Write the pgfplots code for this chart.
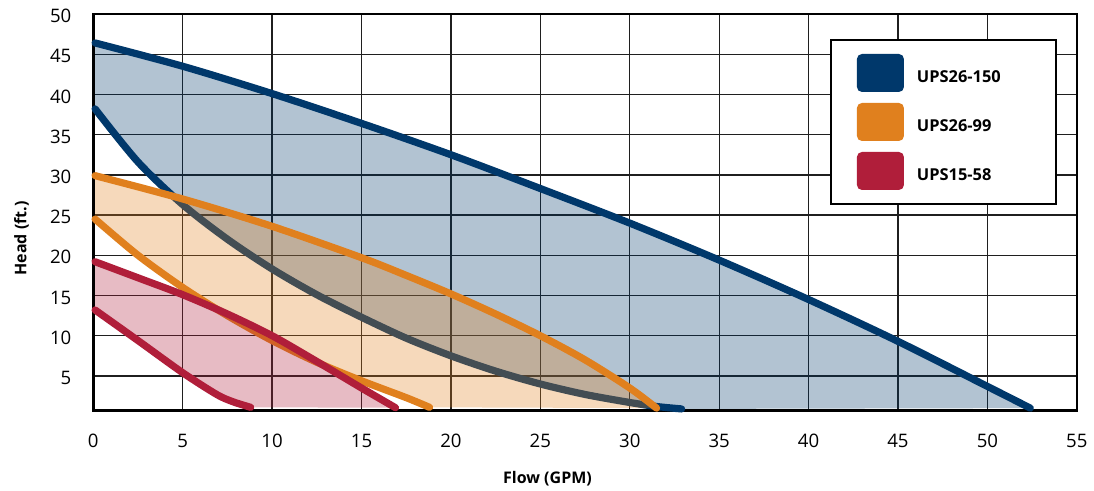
\documentclass[border=0pt]{standalone}
\usepackage{pgfplots}
\pgfplotsset{compat=1.18}
\usepackage{pgfplotstable}
\usepgfplotslibrary{fillbetween}
\usepackage{fontspec}
\setmainfont{Open Sans}
\definecolor{navyc}{RGB}{0,56,107}
\definecolor{orangec}{RGB}{224,128,30}
\definecolor{redc}{RGB}{176,30,58}

% UPS26-150 upper / lower
\pgfplotstableread{
x y
0.1 46.4
5 43.5
10 40.1
15 36.4
20 32.5
25 28.3
30 24.0
35 19.4
40 14.5
45 9.3
50 3.7
52.4 1.0
}\bu
\pgfplotstableread{
x y
0.1 38.2
2.5 31.6
5 26.3
7.5 22.0
10 18.3
12.5 15.1
15 12.3
17.5 9.7
20 7.5
22.5 5.6
25 4.0
27.5 2.7
30 1.7
31.5 1.2
32.9 0.9
}\bl
% UPS26-99 upper / lower
\pgfplotstableread{
x y
0.1 29.9
5 27.0
10 23.6
15 19.7
17.5 17.5
20 15.2
22.5 12.7
25 10.0
27.5 7.0
30 3.5
31.5 1.0
}\ou
\pgfplotstableread{
x y
0.1 24.5
2.5 20.0
5 16.0
7.5 12.5
10 9.4
12.5 6.7
15 4.4
17.5 2.3
18.8 1.1
}\ol
% UPS15-58 upper / lower
\pgfplotstableread{
x y
0.1 19.2
2.5 17.2
5 15.1
7.5 12.7
10 10.0
12.5 6.8
15 3.5
16.9 1.05
}\ru
\pgfplotstableread{
x y
0.1 13.2
2.5 9.4
5 5.4
6.9 2.7
7.8 1.8
8.8 1.1
}\rl

\tikzset{fill between/on layer=main}
\pgfplotsset{
  sqlegend/.style={legend image code/.code={\path[##1, rounded corners=2.5pt] (0pt,-7.2pt) rectangle (23.5pt,11.8pt);}},
  curve/.style={line width=3.6pt, smooth, line cap=round, forget plot},
}

\begin{document}
\begin{tikzpicture}
\begin{axis}[
  at={(0,0)}, anchor=south west,
  scale only axis, width=491.75pt, height=198.35pt,
  xmin=0, xmax=55, ymin=0.68, ymax=50,
  xtick={0,5,...,55}, ytick={5,10,...,50},
  grid=major, major grid style={line width=0.65pt, black!88},
  axis line style={line width=1.3pt, black},
  major tick length=0pt,
  clip=false,
  /pgf/number format/assume math mode=true,
  tick label style={font=\fontsize{9.3}{11}\selectfont, inner sep=0pt},
  xticklabel style={anchor=north, yshift=-11.4pt},
  yticklabel style={anchor=east, xshift=-10.8pt, yshift=-1pt},
  xlabel={Flow (GPM)}, ylabel={Head (ft.)},
  label style={font=\fontsize{8}{10}\selectfont\bfseries},
  xlabel style={at={([yshift=-36.2pt]axis description cs:0.4618,0)}, anchor=base},
  ylabel style={at={([xshift=-33.4pt]axis description cs:0,0.434)}, anchor=base},
  legend style={at={(axis description cs:0.749,0.937)}, anchor=north west,
    draw=black, line width=1pt, fill=white, inner xsep=13pt, inner ysep=7pt,
    row sep=5.5pt, column sep=6.5pt,
    font=\fontsize{8.2}{10}\selectfont\bfseries,
    nodes={inner sep=0pt, anchor=west}},
]
\addlegendimage{sqlegend, fill=navyc, draw=none}
\addlegendentry{\makebox[56.5pt][l]{UPS26-150}}
\addlegendimage{sqlegend, fill=orangec, draw=none}
\addlegendentry{\makebox[56.5pt][l]{UPS26-99}}
\addlegendimage{sqlegend, fill=redc, draw=none}
\addlegendentry{\makebox[56.5pt][l]{UPS15-58}}

% UPS26-150
\addplot[draw=none, smooth, name path=bu, forget plot] table {\bu};
\addplot[draw=none, smooth, name path=bl, forget plot] table {\bl};
\addplot[fill=navyc, fill opacity=0.3, draw=none, forget plot] fill between[of=bu and bl];
\addplot[navyc, curve] table {\bu};
\addplot[navyc, curve] table {\bl};

% UPS26-99
\addplot[draw=none, smooth, name path=ou, forget plot] table {\ou};
\addplot[draw=none, smooth, name path=ol, forget plot] table {\ol};
\addplot[fill=orangec, fill opacity=0.3, draw=none, forget plot] fill between[of=ou and ol];
\addplot[orangec, curve] table {\ou};
\addplot[orangec, curve] table {\ol};

% UPS15-58
\addplot[draw=none, smooth, name path=ru, forget plot] table {\ru};
\addplot[draw=none, smooth, name path=rl, forget plot] table {\rl};
\addplot[fill=redc, fill opacity=0.3, draw=none, forget plot] fill between[of=ru and rl];
\addplot[redc, curve] table {\ru};
\addplot[redc, curve] table {\rl};
\end{axis}
\pgfresetboundingbox
\path[use as bounding box] (-46.65pt,-40.15pt) rectangle (500.35pt,205.35pt);
\end{tikzpicture}
\end{document}
